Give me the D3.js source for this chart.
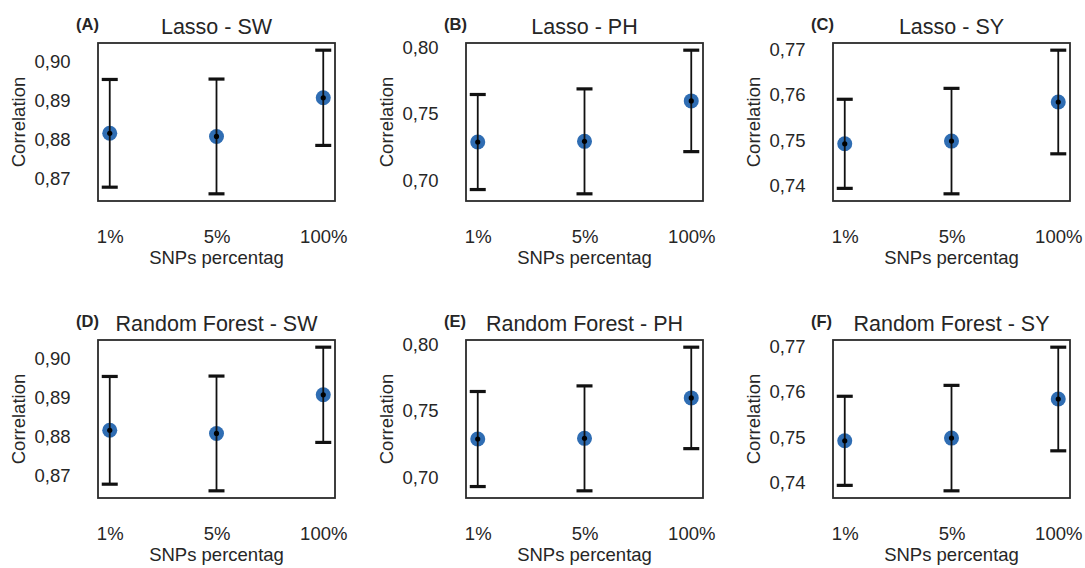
<!DOCTYPE html>
<html lang="en">
<head>
  <meta charset="utf-8">
  <title>Correlation by SNPs percentage</title>
  <style>
    body {
      margin: 0;
      background: #fff;
    }

    text {
      font-family: "Liberation Sans", Arial, sans-serif;
      fill: #262626;
    }

    .frame {
      fill: none;
      stroke: #2b2b2b;
      stroke-width: 1.8px;
    }
  </style>
</head>
<body>

  <svg width="1085" height="568"></svg>
  <script src="https://cdn.jsdelivr.net/npm/d3@7"></script>
  <script>

  var categories = ["1%", "5%", "100%"];

  // mean correlation and error (half-length of the bar) per SNP subset
  var lassoSW = [0.8816, 0.8808, 0.8907],  lassoSWErr = [0.0138, 0.0147, 0.0122];
  var lassoPH = [0.7286, 0.7291, 0.7594],  lassoPHErr = [0.0356, 0.0393, 0.0380];
  var lassoSY = [0.7491, 0.7497, 0.7583],  lassoSYErr = [0.0098, 0.0116, 0.0114];
  var rfSW = [0.8816, 0.8808, 0.8907],     rfSWErr = [0.0138, 0.0147, 0.0122];
  var rfPH = [0.7286, 0.7291, 0.7594],     rfPHErr = [0.0356, 0.0393, 0.0380];
  var rfSY = [0.7491, 0.7497, 0.7583],     rfSYErr = [0.0098, 0.0116, 0.0114];

  var ticksSW = [0.87, 0.88, 0.89, 0.90];
  var ticksPH = [0.70, 0.75, 0.80];
  var ticksSY = [0.74, 0.75, 0.76, 0.77];

  var panels = [
    {tag: "(A)", title: "Lasso - SW", mean: lassoSW, err: lassoSWErr, ticks: ticksSW},
    {tag: "(B)", title: "Lasso - PH", mean: lassoPH, err: lassoPHErr, ticks: ticksPH},
    {tag: "(C)", title: "Lasso - SY", mean: lassoSY, err: lassoSYErr, ticks: ticksSY},
    {tag: "(D)", title: "Random Forest - SW", mean: rfSW, err: rfSWErr, ticks: ticksSW},
    {tag: "(E)", title: "Random Forest - PH", mean: rfPH, err: rfPHErr, ticks: ticksPH},
    {tag: "(F)", title: "Random Forest - SY", mean: rfSY, err: rfSYErr, ticks: ticksSY}
  ];

  var svg = d3.select("svg");

  var colLeft = [98, 466, 833],
      rowTop = [43, 340],
      w = 237,
      h = 158;

  var comma = d3.formatLocale({decimal: ",", thousands: ".", grouping: [3], currency: ["", ""]}).format(".2f");

  panels.forEach(function(p, i) {
    var left = colLeft[i % 3],
        top = rowTop[Math.floor(i / 3)];

    var g = svg.append("g")
        .attr("transform", "translate(" + left + "," + top + ")");

    var rows = categories.map(function(c, k) {
      return {cat: k, label: c, mean: p.mean[k], lo: p.mean[k] - p.err[k], hi: p.mean[k] + p.err[k]};
    });

    // 5% padding around the error bars, like matplotlib autoscale
    var lo = d3.min(rows, function(d) { return d.lo; }),
        hi = d3.max(rows, function(d) { return d.hi; }),
        pad = (hi - lo) * 0.05;

    var x = d3.scaleLinear().domain([-0.11, 2.11]).range([0, w]);
    var y = d3.scaleLinear().domain([lo - pad, hi + pad]).range([h, 0]);

    var yAxis = g.append("g")
        .attr("transform", "translate(-27.5,0)")
        .call(d3.axisLeft(y).tickValues(p.ticks).tickSize(0).tickPadding(0).tickFormat(comma));
    yAxis.select(".domain").remove();
    yAxis.selectAll("text")
        .attr("font-size", "18.5px")
        .attr("dy", "0.34em")
        .style("font-family", "'Liberation Sans', Arial, sans-serif");

    var xAxis = g.append("g")
        .attr("transform", "translate(0," + h + ")")
        .call(d3.axisBottom(x).tickValues([0, 1, 2]).tickSize(0).tickPadding(0)
          .tickFormat(function(d) { return categories[d]; }));
    xAxis.select(".domain").remove();
    xAxis.selectAll("text")
        .attr("font-size", "18.5px")
        .attr("dy", null)
        .attr("y", 42)
        .style("font-family", "'Liberation Sans', Arial, sans-serif");

    g.append("rect")
        .attr("class", "frame")
        .attr("width", w)
        .attr("height", h);

    var pts = g.append("g")
      .selectAll("g")
      .data(rows)
      .enter().append("g");

    pts.append("circle")
        .attr("cx", function(d) { return x(d.cat); })
        .attr("cy", function(d) { return y(d.mean); })
        .attr("r", 7.5)
        .attr("fill", "#2f6db3");

    pts.append("line")
        .attr("x1", function(d) { return x(d.cat); })
        .attr("x2", function(d) { return x(d.cat); })
        .attr("y1", function(d) { return y(d.lo); })
        .attr("y2", function(d) { return y(d.hi); })
        .attr("stroke", "#111")
        .attr("stroke-width", 1.8);

    pts.selectAll(".cap")
        .data(function(d) { return [{c: d.cat, v: d.lo}, {c: d.cat, v: d.hi}]; })
      .enter().append("line")
        .attr("class", "cap")
        .attr("x1", function(d) { return x(d.c) - 8; })
        .attr("x2", function(d) { return x(d.c) + 8; })
        .attr("y1", function(d) { return y(d.v); })
        .attr("y2", function(d) { return y(d.v); })
        .attr("stroke", "#111")
        .attr("stroke-width", 3.2);

    pts.append("circle")
        .attr("cx", function(d) { return x(d.cat); })
        .attr("cy", function(d) { return y(d.mean); })
        .attr("r", 2.6)
        .attr("fill", "#000");

    g.append("text")
        .attr("x", w / 2)
        .attr("y", -9)
        .attr("text-anchor", "middle")
        .attr("font-size", "21.5px")
        .text(p.title);

    g.append("text")
        .attr("x", -22)
        .attr("y", -13)
        .attr("font-size", "16.5px")
        .attr("font-weight", "bold")
        .text(p.tag);

    g.append("text")
        .attr("x", w / 2)
        .attr("y", h + 63)
        .attr("text-anchor", "middle")
        .attr("font-size", "18.5px")
        .text("SNPs percentag");

    g.append("text")
        .attr("transform", "translate(-73," + (h / 2) + ") rotate(-90)")
        .attr("text-anchor", "middle")
        .attr("font-size", "18.5px")
        .text("Correlation");
  });

  </script>

</body>
</html>
